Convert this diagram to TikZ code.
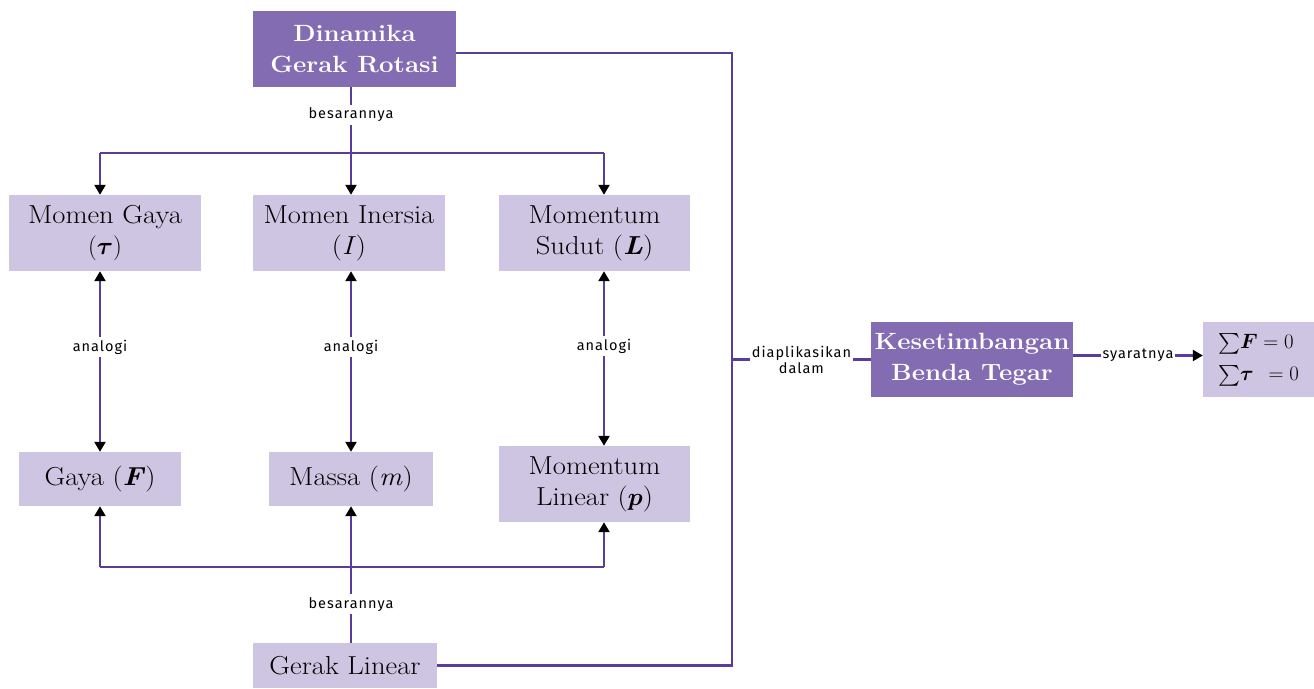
\documentclass[tikz,border=0pt]{standalone}
\usepackage{exscale}
\usepackage{fontspec}
\usepackage{bm}
\usetikzlibrary{arrows.meta}
\setmainfont{Latin Modern Roman}[FakeStretch=1.1]
\newfontfamily\lblfont[LetterSpace=7]{Fira Sans}
\definecolor{darkbox}{HTML}{836CB2}
\definecolor{lightbox}{HTML}{CDC5E1}
\definecolor{linkcol}{HTML}{5A3C9E}
\tikzset{
  lightnode/.style={fill=lightbox, inner sep=0pt, align=center,
    font=\fontsize{26}{31}\selectfont},
  darknode/.style={fill=darkbox, inner sep=0pt, align=center, text=white,
    font=\fontsize{23.5}{31}\selectfont\bfseries},
  link/.style={draw=linkcol, line width=2.3pt},
  tip/.style={link, -{Triangle[width=11pt,length=10pt,color=black]}},
  bitip/.style={link, {Triangle[width=11pt,length=10pt,color=black]}-{Triangle[width=11pt,length=10pt,color=black]}},
  lbl/.style={fill=white, inner sep=3pt, text=black, align=center,
    font=\lblfont\fontsize{14.5}{16}\selectfont},
}
\begin{document}
\begin{tikzpicture}[x=1pt,y=-1pt]
\useasboundingbox (0,0) rectangle (1314,688);

% boxes
\node[darknode, minimum width=203, minimum height=76] (dyn) at (354.5,49) {Dinamika\\Gerak Rotasi};
\node[lightnode, minimum width=192, minimum height=76] (mg) at (105,233) {Momen Gaya\\$(\bm{\tau})$};
\node[lightnode, minimum width=192, minimum height=76] (mi) at (349,233) {Momen Inersia\\(\textit{I})};
\node[lightnode, minimum width=191, minimum height=76] (ms) at (594.5,233) {Momentum\\Sudut (\textbf{\textit{L}})};
\node[lightnode, minimum width=162, minimum height=54] (gy) at (100,479) {Gaya (\textbf{\textit{F}})};
\node[lightnode, minimum width=164, minimum height=54] (ma) at (351,479) {Massa (\textit{m})};
\node[lightnode, minimum width=191, minimum height=76] (ml) at (594.5,484) {Momentum\\Linear ($\bm{p}$)};
\node[lightnode, minimum width=184, minimum height=45] (gl) at (345,665.5) {Gerak Linear};
\node[darknode, minimum width=202, minimum height=75] (kb) at (972,359.5) {Kesetimbangan\\Benda Tegar};
\node[lightnode, minimum width=111, minimum height=75, align=left, font=\fontsize{21}{32}\selectfont] (sb) at (1258.5,359.5)
  {$\sum\! \bm{F}\;{=}\;0$\\$\sum\! \bm{\tau}\;\;\,{=}\;0$};

% column and junction points
\coordinate (c2) at (351,0);
\coordinate (c3) at (604,0);
\coordinate (jt) at (351,153);
\coordinate (jb) at (351,567);
\coordinate (rx) at (732,0);

% rotational quantities
\draw[link] (dyn.south -| c2) -- node[lbl, pos=0.42] {besarannya} (jt);
\draw[tip] (jt) -- (mi.north -| c2);
\draw[link] (jt -| gy) -- (jt -| c3);
\draw[tip] (jt -| gy) -- (mg.north -| gy);
\draw[tip] (jt -| c3) -- (ms.north -| c3);

% analogies
\draw[bitip] (mg.south -| gy) -- node[lbl, pos=0.42] {analogi} (gy.north);
\draw[bitip] (mi.south -| c2) -- node[lbl, pos=0.42] {analogi} (ma.north -| c2);
\draw[bitip] (ms.south -| c3) -- node[lbl, pos=0.43] {analogi} (ml.north -| c3);

% linear quantities
\draw[link] (gl.north -| c2) -- node[lbl, pos=0.51] {besarannya} (jb);
\draw[tip] (jb) -- (ma.south -| c2);
\draw[link] (jb -| gy) -- (jb -| c3);
\draw[tip] (jb -| gy) -- (gy.south);
\draw[tip] (jb -| c3) -- (ml.south -| c3);

% application to rigid-body equilibrium
\draw[link] ([yshift=-4pt]dyn.east) -| (rx |- gl.east) -- (gl.east);
\draw[link] (rx |- kb.west) -- node[lbl, inner sep=2pt] {diaplikasikan\\dalam} (kb.west);
\draw[tip] ([yshift=4pt]kb.east) -- node[lbl, inner sep=2pt] {syaratnya} ([yshift=4pt]sb.west);
\end{tikzpicture}
\end{document}
